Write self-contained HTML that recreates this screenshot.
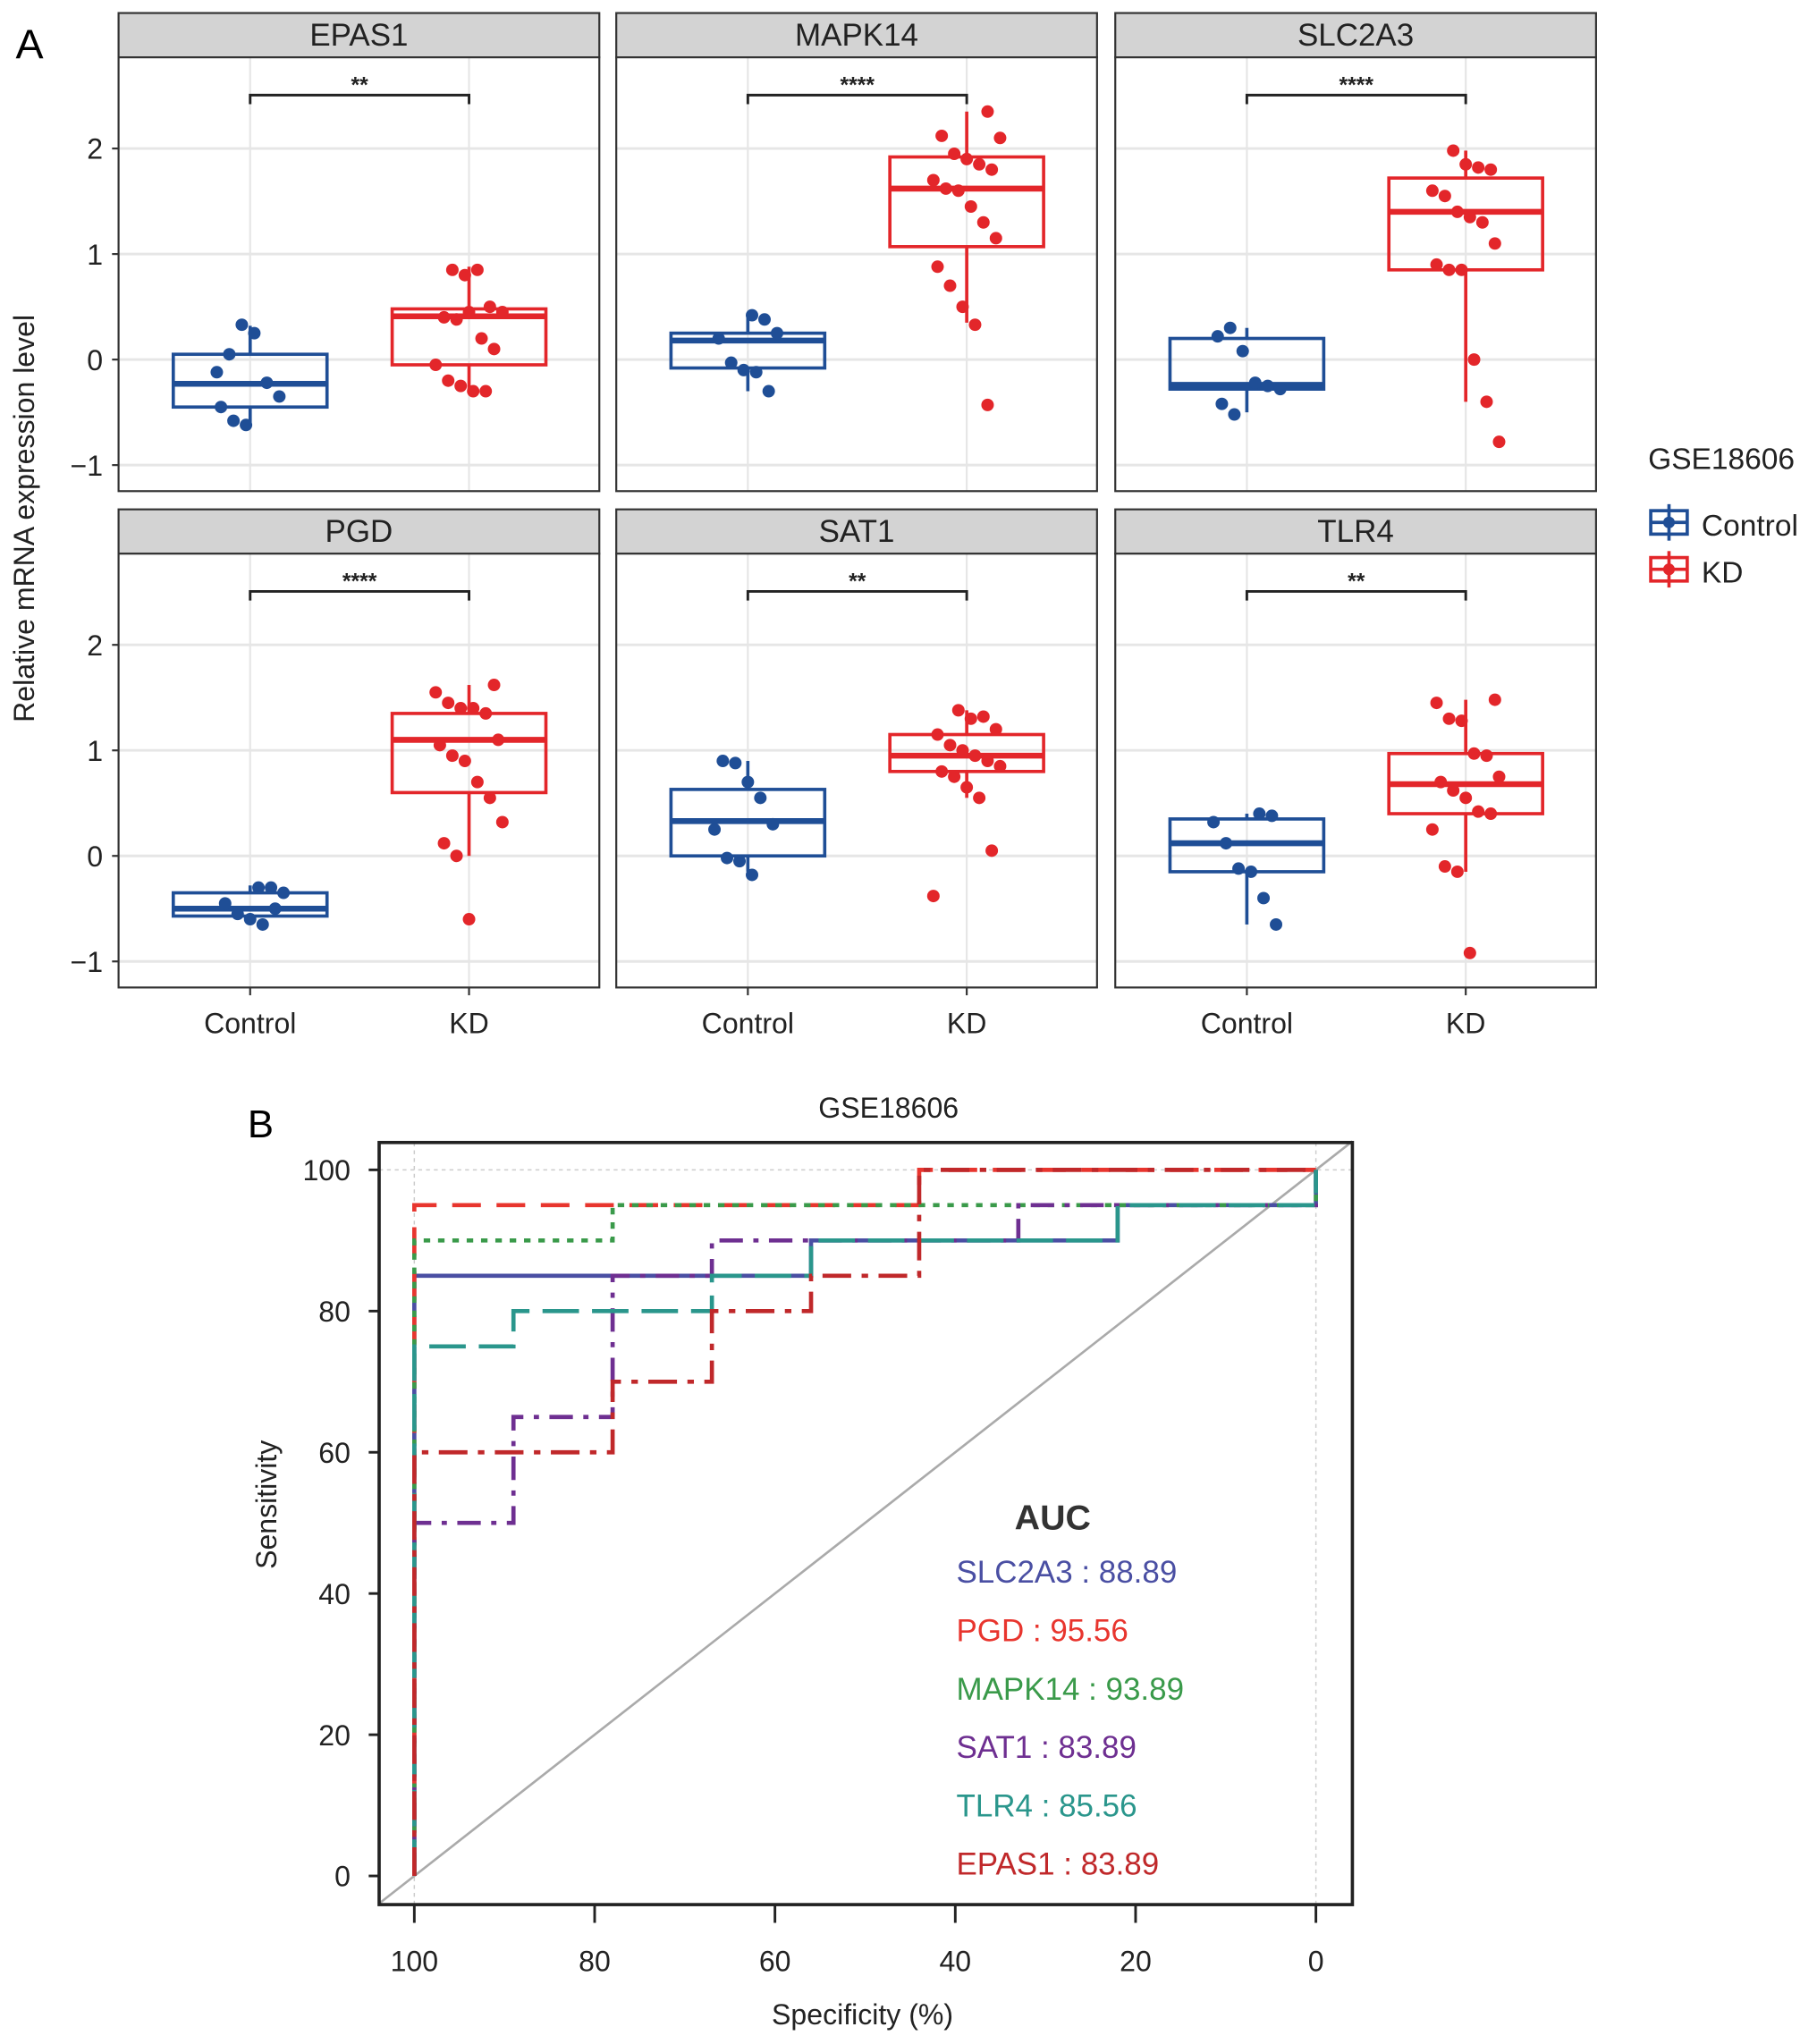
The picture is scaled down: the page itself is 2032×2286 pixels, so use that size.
<!DOCTYPE html>
<html><head><meta charset="utf-8"><style>
html,body{margin:0;padding:0;background:#fff;}
svg{display:block;font-family:"Liberation Sans",Arial,sans-serif;}
</style></head><body>
<svg id="fig" width="2032" height="2286" viewBox="0 0 1394.6 1569" preserveAspectRatio="none" xmlns="http://www.w3.org/2000/svg">
<rect width="1394.6" height="1569" fill="#fff"/>
<text x="12" y="45" font-size="32">A</text>
<text x="190" y="873" font-size="30">B</text>
<text transform="translate(26,398) rotate(-90)" text-anchor="middle" font-size="22" fill="#222">Relative mRNA expression level</text>
<g id="boxes"></g>
<g>
<text x="1265" y="360" font-size="23" fill="#222">GSE18606</text>
<g>
<rect x="1267" y="392" width="28" height="18" fill="none" stroke="#1f4e96" stroke-width="2.5"/>
<line x1="1281" y1="387" x2="1281" y2="415" stroke="#1f4e96" stroke-width="2.5"/>
<line x1="1267" y1="401" x2="1295" y2="401" stroke="#1f4e96" stroke-width="2.5"/>
<circle cx="1281" cy="401" r="4.5" fill="#1f4e96"/>
<text x="1306" y="411" font-size="23" fill="#222">Control</text></g>
<g>
<rect x="1267" y="428" width="28" height="18" fill="none" stroke="#e3262a" stroke-width="2.5"/>
<line x1="1281" y1="423" x2="1281" y2="451" stroke="#e3262a" stroke-width="2.5"/>
<line x1="1267" y1="437" x2="1295" y2="437" stroke="#e3262a" stroke-width="2.5"/>
<circle cx="1281" cy="437" r="4.5" fill="#e3262a"/>
<text x="1306" y="447" font-size="23" fill="#222">KD</text></g>
</g>
<g id="roc"></g>
</svg>
<script>
// ---------- Panel A data ----------
const genes = ["EPAS1","MAPK14","SLC2A3","PGD","SAT1","TLR4"];
const sigLabels = ["**","****","****","****","**","**"];
// [lowerWhisker, q1, median, q3, upperWhisker]
const controlStats = [
 [-0.6,-0.45,-0.23,0.05,0.32],
 [-0.3,-0.08,0.18,0.25,0.42],
 [-0.5,-0.28,-0.24,0.2,0.3],
 [-0.62,-0.57,-0.5,-0.35,-0.28],
 [-0.15,0,0.33,0.63,0.9],
 [-0.65,-0.15,0.12,0.35,0.4]
];
const kdStats = [
 [-0.3,-0.05,0.41,0.48,0.88],
 [0.35,1.07,1.62,1.92,2.35],
 [-0.4,0.85,1.4,1.72,1.98],
 [0.0,0.6,1.1,1.35,1.62],
 [0.55,0.8,0.95,1.15,1.38],
 [-0.15,0.4,0.68,0.97,1.48]
];
const controlPoints = [
 [-0.12,0.05,0.33,0.25,-0.22,-0.35,-0.45,-0.58,-0.62],
 [0.42,0.38,0.25,0.2,-0.03,-0.1,-0.12,-0.3],
 [0.22,0.3,0.08,-0.22,-0.25,-0.28,-0.42,-0.52],
 [-0.3,-0.3,-0.35,-0.45,-0.55,-0.6,-0.65,-0.5],
 [0.9,0.88,0.7,0.55,0.3,0.25,-0.02,-0.05,-0.18],
 [0.4,0.38,0.32,0.12,-0.12,-0.15,-0.4,-0.65]
];
const kdPoints = [
 [0.85,0.8,0.85,0.5,0.45,0.4,0.38,0.45,0.2,0.1,-0.05,-0.2,-0.25,-0.3,-0.3],
 [2.35,2.1,2.12,1.95,1.9,1.85,1.8,1.7,1.62,1.6,1.45,1.3,1.15,0.88,0.7,0.5,0.33,-0.43],
 [1.98,1.85,1.82,1.8,1.6,1.55,1.4,1.35,1.3,1.1,0.9,0.85,0.85,0,-0.4,-0.78],
 [1.62,1.55,1.45,1.4,1.4,1.35,1.1,1.05,0.95,0.9,0.7,0.55,0.32,0.12,0,-0.6],
 [1.38,1.3,1.32,1.2,1.15,1.05,1.0,0.95,0.9,0.85,0.8,0.75,0.65,0.55,0.05,-0.38],
 [1.48,1.45,1.3,1.28,0.97,0.95,0.75,0.7,0.62,0.55,0.42,0.4,0.25,-0.1,-0.15,-0.92]
];
const yTicks = [-1,0,1,2];
const groups = ["Control","KD"];

// ---------- Panel B data ----------
const rocGenes = ["SLC2A3","PGD","MAPK14","SAT1","TLR4","EPAS1"];
const rocAUC = ["88.89","95.56","93.89","83.89","85.56","83.89"];
const rocSpec = [
 [100,100,56,56,22,22,0,0],
 [100,100,44,44,0],
 [100,100,78,78,0,0],
 [100,100,89,89,78,78,67,67,33,33,0,0],
 [100,100,89,89,67,67,56,56,22,22,0,0],
 [100,100,78,78,67,67,56,56,44,44,0]
];
const rocSens = [
 [0,85,85,90,90,95,95,100],
 [0,95,95,100,100],
 [0,90,90,95,95,100],
 [0,50,50,65,65,85,85,90,90,95,95,100],
 [0,75,75,80,80,85,85,90,90,95,95,100],
 [0,60,60,70,70,80,80,85,85,100,100]
];
const rocTicks = [0,20,40,60,80,100];

const NS="http://www.w3.org/2000/svg";
function mk(tag, attrs, parent){const e=document.createElementNS(NS,tag);for(const k in attrs)e.setAttribute(k,attrs[k]);parent.appendChild(e);return e;}

// ---------- Draw Panel A ----------
const boxesG=document.getElementById('boxes');
const colLeft=[91,473,856], panelW=369;
const rowStripTop=[10,391], rowTop=[44,425], panelH=333;
const yZero=[276,657], unit=81;
const BLUE="#1f4e96", RED="#e3262a";
function jitter(i){return ((i*37)%17-8)*3.2;}
genes.forEach((g,gi)=>{
  const c=gi%3, r=Math.floor(gi/3);
  const L=colLeft[c], T=rowTop[r];
  const ys=v=>yZero[r]-v*unit;
  const xs=[L+101,L+269];
  const pg=mk('g',{},boxesG);
  
  
  const strip=mk('rect',{x:L,y:rowStripTop[r],width:panelW,height:T-rowStripTop[r],fill:'#d3d3d3',stroke:'#333','stroke-width':1.5},pg);
  
  
  const st=mk('text',{x:L+panelW/2,y:rowStripTop[r]+25,'text-anchor':'middle','font-size':24,fill:'#222'},pg);st.textContent=g;
  
  
  mk('rect',{x:L,y:T,width:panelW,height:panelH,fill:'#fff'},pg);
  yTicks.forEach(t=>mk('line',{x1:L,x2:L+panelW,y1:ys(t),y2:ys(t),stroke:'#e6e6e6','stroke-width':2},pg));
  xs.forEach(x=>mk('line',{x1:x,x2:x,y1:T,y2:T+panelH,stroke:'#e6e6e6','stroke-width':1.5},pg));
  mk('rect',{x:L,y:T,width:panelW,height:panelH,fill:'none',stroke:'#333','stroke-width':1.5},pg);
  if(c===0){yTicks.forEach(t=>{
    mk('line',{x1:L-5,x2:L,y1:ys(t),y2:ys(t),stroke:'#333','stroke-width':1.5},pg);
    const tt=mk('text',{x:L-12,y:ys(t)+8,'text-anchor':'end','font-size':22,fill:'#222'},pg);tt.textContent=(t<0?'\u2212'+(-t):t);
    
    
  });}
  if(r===1){xs.forEach((x,i)=>{
    mk('line',{x1:x,x2:x,y1:T+panelH,y2:T+panelH+6,stroke:'#333','stroke-width':1.5},pg);
    const tt=mk('text',{x:x,y:793,'text-anchor':'middle','font-size':22,fill:'#222'},pg);tt.textContent=groups[i];
    
    
  });}
  const by=T+29;
  const br=mk('path',{d:`M${xs[0]},${by+7}V${by}H${xs[1]}V${by+7}`,fill:'none',stroke:'#222','stroke-width':2},pg);
  
  
  const sg=mk('text',{x:(xs[0]+xs[1])/2,y:by-2,'text-anchor':'middle','font-size':17,'font-weight':'bold',fill:'#222'},pg);sg.textContent=sigLabels[gi];
  
  
  [[controlStats[gi],controlPoints[gi],BLUE,'control'],[kdStats[gi],kdPoints[gi],RED,'kd']].forEach((d,i)=>{
    const s=d[0],x=xs[i],col=d[2];
    const bg=mk('g',{},pg);
    
    
    mk('line',{x1:x,x2:x,y1:ys(s[0]),y2:ys(s[1]),stroke:col,'stroke-width':2.5},bg);
    mk('line',{x1:x,x2:x,y1:ys(s[3]),y2:ys(s[4]),stroke:col,'stroke-width':2.5},bg);
    mk('rect',{x:x-59,y:ys(s[3]),width:118,height:ys(s[1])-ys(s[3]),fill:'none',stroke:col,'stroke-width':2.5},bg);
    mk('line',{x1:x-59,x2:x+59,y1:ys(s[2]),y2:ys(s[2]),stroke:col,'stroke-width':4.5},bg);
    d[1].forEach((v,k)=>{
      const p=mk('circle',{cx:x+jitter(k+gi*3+i*7),cy:ys(v),r:4.8,fill:col},bg);
      
      
    });
  });
});

// ---------- Draw Panel B ----------
const roc=document.getElementById('roc');
const bx0=291,bx1=1038,by0=877,by1=1462;
const sx=v=>318+(100-v)*6.92;
const sy=v=>1440-v*5.42;
const rt=mk('text',{x:682,y:858,'text-anchor':'middle','font-size':22,fill:'#222'},roc);rt.textContent='GSE18606';


mk('line',{x1:sx(100),x2:sx(100),y1:by0,y2:by1,stroke:'#ccc','stroke-width':1,'stroke-dasharray':'3,3'},roc);
mk('line',{x1:sx(0),x2:sx(0),y1:by0,y2:by1,stroke:'#ccc','stroke-width':1,'stroke-dasharray':'3,3'},roc);
mk('line',{x1:bx0,x2:bx1,y1:sy(100),y2:sy(100),stroke:'#ccc','stroke-width':1,'stroke-dasharray':'3,3'},roc);
const diag=mk('line',{x1:bx0,y1:sy(0)+(sx(100)-bx0)*0.783,x2:bx1,y2:sy(100)-(bx1-sx(0))*0.783,stroke:'#aaa','stroke-width':1.8},roc);


const rocColors=["#4a4fa3","#e8352e","#3a9a4a","#6e2f91","#2a968c","#c0282a"];
const rocDash=["none","22,12","5,6","18,8,4,8","28,10","22,8,5,8"];
rocGenes.forEach((g,i)=>{
  let d='';
  rocSpec[i].forEach((s,k)=>{d+=(k?'L':'M')+sx(s).toFixed(1)+','+sy(rocSens[i][k]).toFixed(1);});
  const p=mk('path',{d:d,fill:'none',stroke:rocColors[i],'stroke-width':3.2,'stroke-dasharray':rocDash[i]},roc);
  
  
  const t=mk('text',{x:734,y:1215+i*44.8,'font-size':24,fill:rocColors[i]},roc);t.textContent=g+' : '+rocAUC[i];
  
  
});
const at=mk('text',{x:808,y:1174,'text-anchor':'middle','font-size':27,'font-weight':'bold',fill:'#333'},roc);at.textContent='AUC';


mk('rect',{x:bx0,y:by0,width:bx1-bx0,height:by1-by0,fill:'none',stroke:'#222','stroke-width':2.5},roc);
rocTicks.forEach(t=>{
  mk('line',{x1:bx0-8,x2:bx0,y1:sy(t),y2:sy(t),stroke:'#222','stroke-width':2},roc);
  const yl=mk('text',{x:bx0-22,y:sy(t)+8,'text-anchor':'end','font-size':22,fill:'#222'},roc);yl.textContent=t;
  
  
  mk('line',{x1:sx(t),x2:sx(t),y1:by1,y2:by1+14,stroke:'#222','stroke-width':2},roc);
  const xl=mk('text',{x:sx(t),y:1513,'text-anchor':'middle','font-size':22,fill:'#222'},roc);xl.textContent=t;
  
  
});
const xt=mk('text',{x:662,y:1554,'text-anchor':'middle','font-size':22,fill:'#222'},roc);xt.textContent='Specificity (%)';


const yt=mk('text',{transform:'translate(212,1155) rotate(-90)','text-anchor':'middle','font-size':22,fill:'#222'},roc);yt.textContent='Sensitivity';


</script>
</body></html>
